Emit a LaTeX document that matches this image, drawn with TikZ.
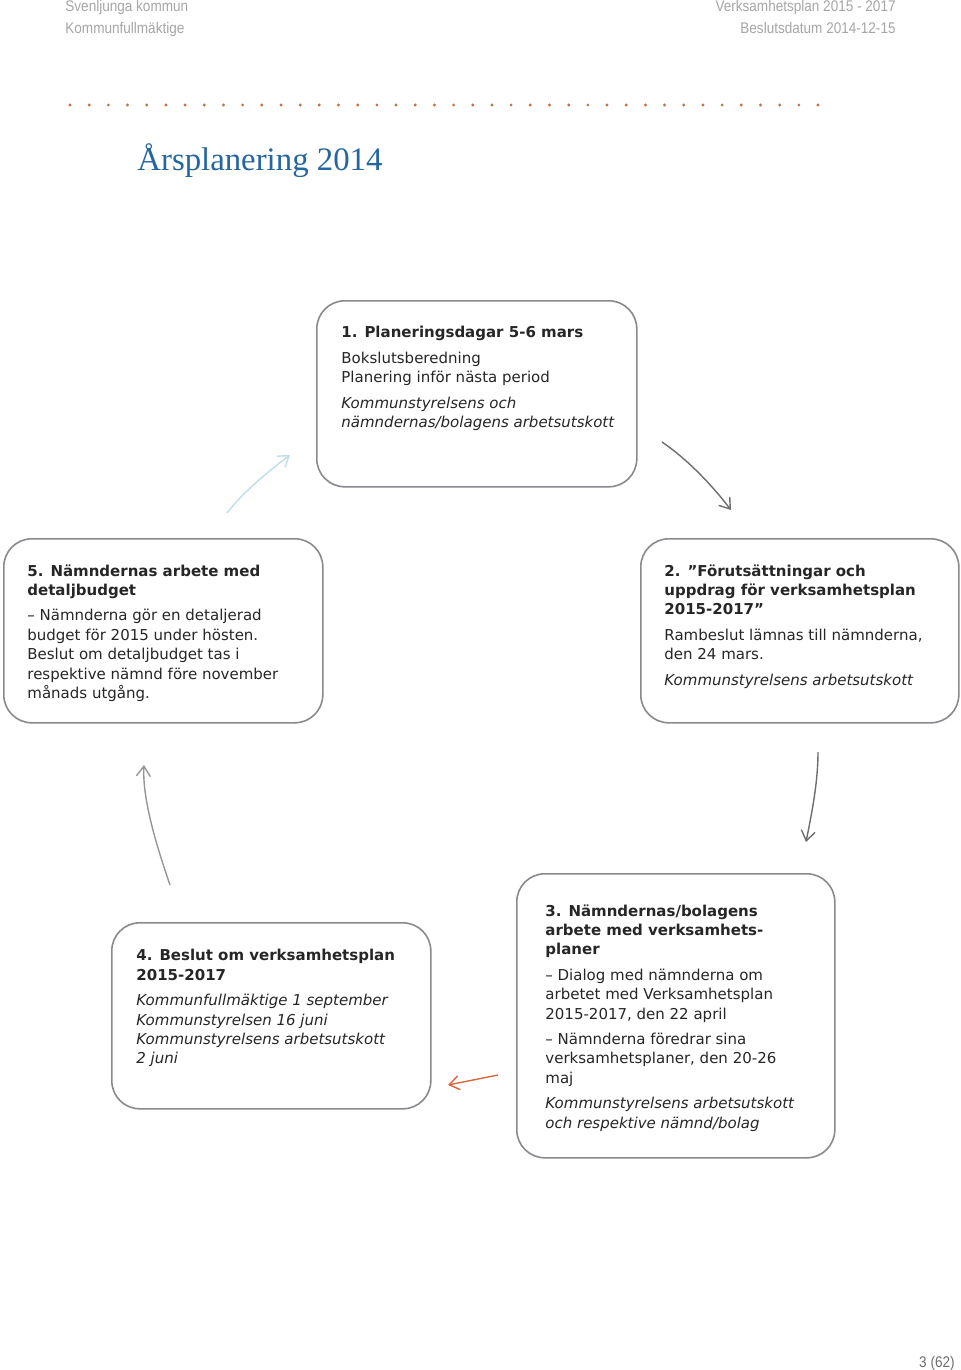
\documentclass[tikz,border=0pt]{standalone}
\usepackage{fontspec}
\setmainfont{DejaVu Sans}
\newfontfamily\titlefont{Liberation Serif}
\newfontfamily\headfont[FakeStretch=0.88]{Liberation Sans}
\usetikzlibrary{arrows.meta}

\definecolor{boxgray}{RGB}{136,138,142}
\definecolor{textdark}{RGB}{38,38,38}
\definecolor{headgray}{RGB}{166,166,166}
\definecolor{titleblue}{RGB}{37,102,160}
\definecolor{dotorange}{RGB}{196,112,68}
\definecolor{arrowgray}{RGB}{110,110,110}
\definecolor{arrowlight}{RGB}{150,150,150}
\definecolor{arroworange}{RGB}{217,103,63}
\definecolor{arrowblue}{RGB}{190,222,232}

\begin{document}
\begin{tikzpicture}[x=0.5pt, y=-0.5pt,
    >={Straight Barb[length=5pt, width=7pt]},
    stagebox/.style={draw=boxgray, line width=0.8pt, rounded corners=14pt,
        minimum width=159.5pt, minimum height=92pt, inner sep=0pt, anchor=north west},
    stagetext/.style={anchor=north west, align=left, inner sep=0pt, text=textdark,
        font=\fontsize{7.5}{9.7}\selectfont},
    header/.style={inner sep=0pt, text=headgray, font=\headfont\fontsize{7.7}{9}\selectfont},
    cyclearrow/.style={->, line width=0.7pt}]
    \fill[white] (0,0) rectangle (960,1370);
    \useasboundingbox (0,0) rectangle (960,1370);

    % Page header
    \node[header, anchor=base west] (KOMMUN) at (65,12) {Svenljunga kommun};
    \node[header, anchor=base west] (KF) at (65,34) {Kommunfullmäktige};
    \node[header, anchor=base east] (VP) at (896,12) {Verksamhetsplan 2015 - 2017};
    \node[header, anchor=base east] (BD) at (896,34) {Beslutsdatum 2014-12-15};

    % Dotted rule
    \foreach \i in {0,...,39}
        \fill[dotorange] (70+19.18*\i,105) circle (0.8pt);

    % Title
    \node[anchor=base west, inner sep=0pt, text=titleblue,
        font=\titlefont\fontsize{16.4}{18}\selectfont] (TITLE) at (137,170) {Årsplanering 2014};

    % 1. Planeringsdagar
    \node[stagebox, minimum width=160pt, minimum height=93pt] (PD) at (316,300) {};
    \node[stagetext] (PDtext) at ([shift={(25,26)}]PD.north west) {%
        \textbf{1. Planeringsdagar 5-6 mars}\\[3pt]
        Bokslutsberedning\\
        Planering inför nästa period\\[3pt]
        \textit{Kommunstyrelsens och}\\
        \textit{nämndernas/bolagens arbetsutskott}};

    % 2. Förutsättningar och uppdrag
    \node[stagebox, minimum width=159pt] (FU) at (640,538) {};
    \node[stagetext] (FUtext) at ([shift={(24,26)}]FU.north west) {%
        \textbf{2. ”Förutsättningar och}\\
        \textbf{uppdrag för verksamhetsplan}\\
        \textbf{2015-2017”}\\[3pt]
        Rambeslut lämnas till nämnderna,\\
        den 24 mars.\\[3pt]
        \textit{Kommunstyrelsens arbetsutskott}};

    % 3. Nämndernas/bolagens verksamhetsplaner
    \node[stagebox, minimum width=159pt, minimum height=142pt] (NV) at (516,873) {};
    \node[stagetext] (NVtext) at ([shift={(29,31)}]NV.north west) {%
        \textbf{3. Nämndernas/bolagens}\\
        \textbf{arbete med verksamhets-}\\
        \textbf{planer}\\[3pt]
        – Dialog med nämnderna om\\
        arbetet med Verksamhetsplan\\
        2015-2017, den 22 april\\[3pt]
        – Nämnderna föredrar sina\\
        verksamhetsplaner, den 20-26\\
        maj\\[3pt]
        \textit{Kommunstyrelsens arbetsutskott}\\
        \textit{och respektive nämnd/bolag}};

    % 4. Beslut om verksamhetsplan
    \node[stagebox, minimum height=93pt] (BV) at (111,922) {};
    \node[stagetext] (BVtext) at ([shift={(25,27)}]BV.north west) {%
        \textbf{4. Beslut om verksamhetsplan}\\
        \textbf{2015-2017}\\[3pt]
        \textit{Kommunfullmäktige 1 september}\\
        \textit{Kommunstyrelsen 16 juni}\\
        \textit{Kommunstyrelsens arbetsutskott}\\
        \textit{2 juni}};

    % 5. Nämndernas arbete med detaljbudget
    \node[stagebox] (NA) at (3,538) {};
    \node[stagetext] (NAtext) at ([shift={(24,26)}]NA.north west) {%
        \textbf{5. Nämndernas arbete med}\\
        \textbf{detaljbudget}\\[3pt]
        – Nämnderna gör en detaljerad\\
        budget för 2015 under hösten.\\
        Beslut om detaljbudget tas i\\
        respektive nämnd före november\\
        månads utgång.};

    % Arrow end points
    \coordinate (PDout) at (662,442);
    \coordinate (FUin) at (731,510);
    \coordinate (FUout) at (818,752);
    \coordinate (NVin) at (806,842);
    \coordinate (NVout) at (498,1075);
    \coordinate (BVin) at (448,1085);
    \coordinate (BVout) at (170,885);
    \coordinate (NAin) at (144,765);
    \coordinate (NAout) at (227,513);
    \coordinate (PDin) at (290,455);

    % Arrows round the year
    \draw[cyclearrow, draw=arrowgray] (PDout) .. controls +(25,17) and +(-20,-26) .. (FUin);
    \draw[cyclearrow, draw=arrowgray] (FUout) .. controls +(0,30) and +(6,-30) .. (NVin);
    \draw[cyclearrow, draw=arroworange] (NVout) -- (BVin);
    \draw[cyclearrow, draw=arrowlight] (BVout) .. controls +(-12,-35) and +(-2,35) .. (NAin);
    \draw[cyclearrow, draw=arrowblue] (NAout) .. controls +(15,-20) and +(-20,15) .. (PDin);

    % Page number
    \node[header, anchor=base east, text=arrowgray] (PAGE) at (955,1367) {3 (62)};
\end{tikzpicture}
\end{document}
